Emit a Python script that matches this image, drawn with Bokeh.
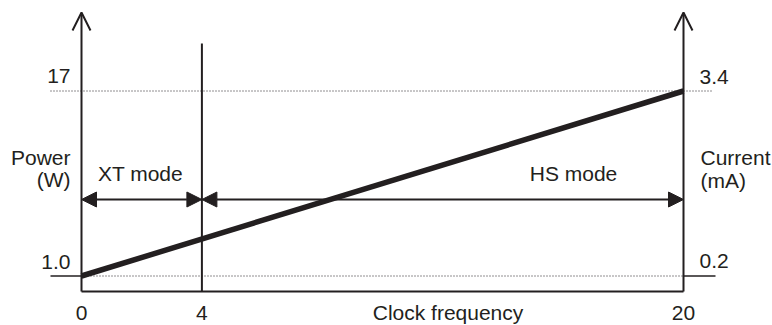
from bokeh.plotting import figure
from bokeh.models import Range1d, Arrow, OpenHead, NormalHead, ColumnDataSource
from bokeh.core.properties import value
from bokeh.embed import file_html
from bokeh.resources import INLINE

# ---- data ----
freq_points = [0, 20]            # clock frequency endpoints
power_points = [1.0, 17]         # power (W) at the endpoints
current_points = [0.2, 3.4]      # current (mA) at the endpoints
power_tick_labels = ["1.0", "17"]
current_tick_labels = ["0.2", "3.4"]
x_ticks = [0, 4, 20]
x_tick_labels = ["0", "4", "20"]
mode_bounds = [0, 4, 20]
mode_labels = ["XT mode", "HS mode"]

C = "#231f20"
FONT = value("Liberation Sans")
FS = "21px"
TSHIFT = 9  # empirical text baseline correction (px)

W, H = 772, 325
PX0, PX20 = 81, 683
PY1, PY17 = 275.5, 90.5
sx = (PX20 - PX0) / (freq_points[1] - freq_points[0])
sy = (PY1 - PY17) / (power_points[1] - power_points[0])

def dx(px):
    return freq_points[0] + (px - PX0) / sx

def dy(py):
    return power_points[1] - (py - PY17) / sy

def ty(py):
    return dy(py - TSHIFT)

x_start, x_end = dx(0), dx(W)
y_end, y_start = dy(0), dy(H)

k = (current_points[1] - current_points[0]) / (power_points[1] - power_points[0])
def to_cur(pw):
    return current_points[0] + (pw - power_points[0]) * k

p = figure(width=W, height=H, x_range=Range1d(x_start, x_end), y_range=Range1d(y_start, y_end),
           output_backend="svg", toolbar_location=None, x_axis_location=None, y_axis_location=None,
           min_border=0, outline_line_color=None)
p.grid.visible = False
p.extra_y_ranges = {"current": Range1d(to_cur(y_start), to_cur(y_end))}

base = dy(291)

# dotted reference lines
p.line([dx(50), dx(713)], [power_points[1]] * 2, line_color=C, line_width=1, line_dash="1 2")
p.line([freq_points[0], freq_points[1]], [power_points[0]] * 2, line_color=C, line_width=1, line_dash="1 2")
# solid tick stubs at 1.0 / 0.2
p.line([dx(50), freq_points[0]], [power_points[0]] * 2, line_color=C, line_width=1.5)
p.line([freq_points[1], dx(715)], [current_points[0]] * 2, line_color=C, line_width=1.5, y_range_name="current")

# baseline
p.line([freq_points[0], freq_points[1]], [base, base], line_color=C, line_width=2)
# mode boundary
p.line([mode_bounds[1]] * 2, [base, dy(43)], line_color=C, line_width=2)

# axes with arrows
for xv in [freq_points[0], freq_points[1]]:
    p.add_layout(Arrow(end=OpenHead(size=18, line_width=2, line_color=C),
                       x_start=xv, y_start=base, x_end=xv, y_end=dy(12),
                       line_width=2, line_color=C))

# mode arrows
ya = dy(199)
msrc = ColumnDataSource(dict(x0=mode_bounds[:-1], x1=mode_bounds[1:], y=[ya] * 2))
p.add_layout(Arrow(start=NormalHead(size=15, fill_color=C, line_color=C, line_width=1),
                   end=NormalHead(size=15, fill_color=C, line_color=C, line_width=1),
                   x_start="x0", y_start="y", x_end="x1", y_end="y",
                   source=msrc, line_width=2, line_color=C))

# main power line
p.line(freq_points, power_points, line_color=C, line_width=5.5)

tk = dict(text_font=FONT, text_font_size=FS, text_color=C, text_baseline="alphabetic")

# left labels
p.text(x=[dx(70)] * 2, y=[ty(270), ty(84)], text=power_tick_labels, text_align="right", **tk)
p.text(x=[dx(70)] * 2, y=[ty(166), ty(188)], text=["Power", "(W)"], text_align="right", **tk)
# right labels
p.text(x=[dx(699)] * 2, y=[ty(269), ty(85)], text=current_tick_labels, text_align="left", **tk)
p.text(x=[dx(700)] * 2, y=[ty(166), ty(189)], text=["Current", "(mA)"], text_align="left", **tk)
# x tick labels
p.text(x=x_ticks, y=[ty(321)] * 3, text=x_tick_labels, text_align="center", **tk)
p.text(x=[dx(447.5)], y=[ty(321)], text=["Clock frequency"], text_align="center", **tk)
# mode labels
p.text(x=[dx(140), dx(573)], y=[ty(182)] * 2, text=mode_labels, text_align="center", **tk)

open("out.html", "w").write(file_html(p, INLINE))
